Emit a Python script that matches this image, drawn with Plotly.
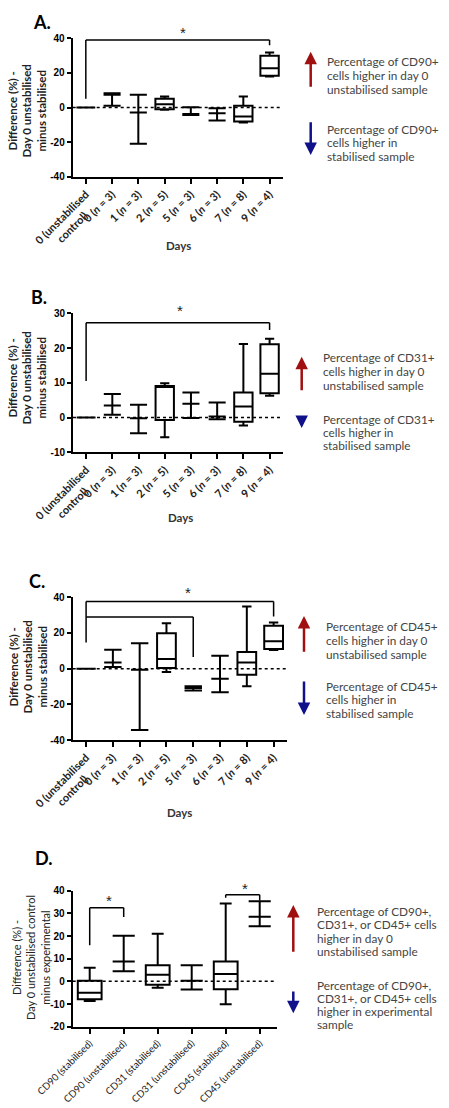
import plotly.graph_objects as go

W, H = 449, 1108
NB = "\u00a0"

# ---------------- data ----------------
DAY_CATS = ["ctrl", "d0", "d1", "d2", "d5", "d6", "d7", "d9"]
DAY_LABELS = ["0 (unstabilised<br>control)" + NB * 6, "0 (<i>n</i> = 3)", "1 (<i>n</i> = 3)",
              "2 (<i>n</i> = 5)", "5 (<i>n</i> = 3)", "6 (<i>n</i> = 3)",
              "7 (<i>n</i> = 8)", "9 (<i>n</i> = 4)"]
DAY_KIND = ["flat", "range", "range", "box", "range", "range", "box", "box"]

D_CATS = ["cd90s", "cd90u", "cd31s", "cd31u", "cd45s", "cd45u"]
D_LABELS = ["CD90 (stabilised)", "CD90 (unstabilised)", "CD31 (stabilised)",
            "CD31 (unstabilised)", "CD45 (stabilised)", "CD45 (unstabilised)"]
D_KIND = ["box", "range", "box", "range", "box", "range"]

# Panel A (CD90)
A_min = [0, 1.0, -21.0, -1.3, -4.4, -7.5, -8.7, 17.9]
A_q1 = [0, 7.4, -2.9, -1.0, -3.7, -3.3, -8.1, 18.3]
A_med = [0, 7.4, -2.9, 1.9, -3.7, -3.3, -5.2, 22.7]
A_q3 = [0, 7.4, -2.9, 5.0, -3.7, -3.3, 1.0, 29.9]
A_max = [0, 8.2, 7.3, 6.4, 0.2, -0.4, 6.4, 31.8]

# Panel B (CD31)
B_min = [0, 0.8, -4.5, -5.7, -0.1, -0.5, -2.3, 6.3]
B_q1 = [0, 3.5, -0.2, -0.7, 4.0, 0.3, -1.2, 7.0]
B_med = [0, 3.5, -0.2, 8.8, 4.0, 0.3, 3.2, 12.6]
B_q3 = [0, 3.5, -0.2, 9.1, 4.0, 0.3, 7.2, 21.1]
B_max = [0, 6.8, 3.7, 9.9, 7.2, 4.3, 21.2, 22.7]

# Panel C (CD45)
C_min = [0, 0.9, -34.4, -1.9, -12.3, -13.2, -9.9, 10.4]
C_q1 = [0, 3.5, -0.6, 0.4, -10.8, -5.6, -3.4, 11.0]
C_med = [0, 3.5, -0.6, 5.4, -10.8, -5.6, 3.5, 15.3]
C_q3 = [0, 3.5, -0.6, 19.9, -10.8, -5.6, 9.3, 24.0]
C_max = [0, 10.6, 14.3, 25.5, -9.9, 7.3, 34.8, 25.9]

# Panel D (combined)
D_min = [-8.7, 4.5, -2.8, -3.6, -10.1, 24.3]
D_q1 = [-7.9, 8.8, -1.5, 0.3, -3.5, 28.5]
D_med = [-5.0, 8.8, 2.9, 0.3, 3.2, 28.5]
D_q3 = [0.3, 8.8, 7.1, 0.3, 8.8, 28.5]
D_max = [6.0, 20.1, 21.0, 7.1, 34.3, 35.4]

# y ticks
YT_A = [-40, -20, 0, 20, 40]
YT_B = [-10, 0, 10, 20, 30]
YT_C = [-40, -20, 0, 20, 40]
YT_D = [-20, -10, 0, 10, 20, 30, 40]

# significance brackets: (x_left, y_left_bottom, x_right, y_right_bottom, y_top)
BR_A = [(0, 5, 7, 36, 39)]
BR_B = [(0, 10.5, 7, 25.2, 27.3)]
BR_C = [(0, 14.7, 7, 29.2, 37.6), (0, 28.9, 4, 6.5, 28.9)]
BR_D = [(0, 15.9, 1, 28.4, 32.5), (4, 36.9, 5, 35.7, 38.2)]
STAR_A = [(3.7, 43.5)]
STAR_B = [(3.6, 30.8)]
STAR_C = [(3.8, 42.5)]
STAR_D = [(0.56, 35.5), (4.58, 41.0)]

TITLE_ABC = "Difference (%) -<br>Day 0 unstabilised<br>minus stabilised"
TITLE_D = "Difference (%) -<br>Day 0 unstabilised control<br>minus experimental"

LEG_A = (["Percentage of CD90+", "cells higher in day 0", "unstabilised sample"],
         ["Percentage of CD90+", "cells higher in", "stabilised sample"])
LEG_B = (["Percentage of CD31+", "cells higher in day 0", "unstabilised sample"],
         ["Percentage of CD31+", "cells higher in", "stabilised sample"])
LEG_C = (["Percentage of CD45+", "cells higher in day 0", "unstabilised sample"],
         ["Percentage of CD45+", "cells higher in", "stabilised sample"])
LEG_D = (["Percentage of CD90+,", "CD31+, or CD45+ cells", "higher in day 0",
          "unstabilised sample"],
         ["Percentage of CD90+,", "CD31+, or CD45+ cells", "higher in experimental",
          "sample"])

# ---------------- layout helpers ----------------
def px(x):
    return x / W


def py(y):
    return 1 - y / H


FONT_TXT = "Lato"
FONT_NUM = "Liberation Sans"

fig = go.Figure()
annotations = []
shapes = []
layout = dict(width=W, height=H, margin=dict(l=0, r=0, t=0, b=0, autoexpand=False),
              paper_bgcolor="white", plot_bgcolor="white", showlegend=False,
              boxmode="overlay")

panels = [
    dict(cats=DAY_CATS, labels=DAY_LABELS, kind=DAY_KIND,
         mn=A_min, q1=A_q1, med=A_med, q3=A_q3, mx=A_max,
         xd=(72.7, 282.7), yd=(38.3, 176.7), yr=(-40, 40), yt=YT_A,
         br=BR_A, st=STAR_A, letter="A.", lp=(41.5, 22.5), title=TITLE_ABC,
         tp=(27.5, 111), days=(178, 245), leg=LEG_A, bold=True,
         arr=dict(x=310.7, r=(51.7, 88.3), b=(120.7, 155), tx=325, ry=61.7, by=129,
                  sp=13.7)),
    dict(cats=DAY_CATS, labels=DAY_LABELS, kind=DAY_KIND,
         mn=B_min, q1=B_q1, med=B_med, q3=B_q3, mx=B_max,
         xd=(73, 282.7), yd=(313.3, 452.3), yr=(-10, 30), yt=YT_B,
         br=BR_B, st=STAR_B, letter="B.", lp=(38.5, 297), title=TITLE_ABC,
         tp=(27.5, 378), days=(180, 517), leg=LEG_B, bold=True,
         arr=dict(x=301.7, r=(356.7, 391.7), b=(417, 428), tx=321, ry=358, by=419,
                  sp=13.5)),
    dict(cats=DAY_CATS, labels=DAY_LABELS, kind=DAY_KIND,
         mn=C_min, q1=C_q1, med=C_med, q3=C_q3, mx=C_max,
         xd=(72.7, 287), yd=(597.3, 740), yr=(-40, 40), yt=YT_C,
         br=BR_C, st=STAR_C, letter="C.", lp=(36.5, 581), title=TITLE_ABC,
         tp=(27.5, 667), days=(179, 812), leg=LEG_C, bold=True,
         arr=dict(x=304, r=(616, 653.3), b=(680, 715), tx=324.3, ry=626.7, by=686,
                  sp=13.8)),
    dict(cats=D_CATS, labels=D_LABELS, kind=D_KIND,
         mn=D_min, q1=D_q1, med=D_med, q3=D_q3, mx=D_max,
         xd=(72.7, 276.7), yd=(890.7, 1026.7), yr=(-20, 40), yt=YT_D,
         br=BR_D, st=STAR_D, letter="D.", lp=(44, 858), title=TITLE_D,
         tp=(31, 958), days=None, leg=LEG_D, bold=False,
         arr=dict(x=293.3, r=(905, 953.3), b=(990, 1013.3), tx=315, ry=911.7, by=985,
                  sp=13.2)),
]

for k, p in enumerate(panels, start=1):
    sfx = "" if k == 1 else str(k)
    xa, ya = "x" + sfx, "y" + sfx
    n = len(p["cats"])
    for i in range(n):
        kind = p["kind"][i]
        if kind == "box":
            width, ww = 0.7, 0.5
        elif kind == "range":
            width, ww = 0.65, 1.0
        else:
            width, ww = 0.72, 1.0
        fig.add_trace(go.Box(
            x=[p["cats"][i]], q1=[p["q1"][i]], median=[p["med"][i]], q3=[p["q3"][i]],
            lowerfence=[p["mn"][i]], upperfence=[p["mx"][i]],
            width=width, whiskerwidth=ww, boxpoints=False,
            line=dict(color="black", width=2), fillcolor="rgba(0,0,0,0)",
            xaxis=xa, yaxis=ya, hoverinfo="skip", showlegend=False))

    tick_font = dict(family=FONT_TXT, size=11 if p["bold"] else 9.8,
                     color="#222", weight="bold" if p["bold"] else "normal")
    layout["xaxis" + sfx] = dict(
        domain=[px(p["xd"][0]), px(p["xd"][1])], anchor=ya, automargin=False,
        type="category", categoryorder="array", categoryarray=p["cats"],
        range=[-0.5, n - 0.5], tickmode="array", tickvals=p["cats"],
        ticktext=p["labels"], tickangle=-45, tickfont=tick_font,
        showline=True, linecolor="black", linewidth=2,
        ticks="outside", ticklen=5, tickwidth=2, tickcolor="black",
        showgrid=False, zeroline=False, fixedrange=True)
    layout["yaxis" + sfx] = dict(
        domain=[py(p["yd"][1]), py(p["yd"][0])], anchor=xa, automargin=False,
        range=list(p["yr"]), tickmode="array", tickvals=p["yt"],
        ticktext=[str(v) for v in p["yt"]],
        tickfont=dict(family=FONT_NUM, size=10, color="black", weight="bold"),
        showline=True, linecolor="black", linewidth=2,
        ticks="outside", ticklen=4, tickwidth=2, tickcolor="black",
        showgrid=False, zeroline=False, fixedrange=True)

    # dotted zero line
    shapes.append(dict(type="line", xref=xa + " domain", yref=ya, x0=0, x1=1, y0=0, y1=0,
                       line=dict(color="black", width=1.5, dash="dot"), layer="below"))
    # brackets
    for (xl, ylb, xr, yrb, yt) in p["br"]:
        for (x0, y0, x1, y1) in [(xl, ylb, xl, yt), (xl, yt, xr, yt), (xr, yt, xr, yrb)]:
            shapes.append(dict(type="line", xref=xa, yref=ya, x0=x0, y0=y0, x1=x1, y1=y1,
                               line=dict(color="black", width=1.5)))
    y0r, y1r = p["yr"]
    for (sx, sy) in p["st"]:
        annotations.append(dict(xref=xa + " domain", yref=ya + " domain",
                                x=(sx + 0.5) / n, y=(sy - y0r) / (y1r - y0r),
                                text="*", showarrow=False,
                                xanchor="center", yanchor="middle",
                                font=dict(family=FONT_NUM, size=15, color="#222")))

    # panel letter
    annotations.append(dict(xref="paper", yref="paper", x=px(p["lp"][0]), y=py(p["lp"][1]),
                            text="<b>%s</b>" % p["letter"], showarrow=False,
                            xanchor="center", yanchor="middle",
                            font=dict(family=FONT_TXT, size=18, color="black")))
    # y title
    annotations.append(dict(xref="paper", yref="paper", x=px(p["tp"][0]), y=py(p["tp"][1]),
                            text=p["title"], showarrow=False, textangle=-90,
                            xanchor="center", yanchor="middle",
                            font=dict(family=FONT_TXT, size=11.5 if p["bold"] else 11,
                                      color="#222",
                                      weight="bold" if p["bold"] else "normal")))
    # x title
    if p["days"]:
        annotations.append(dict(xref="paper", yref="paper", x=px(p["days"][0]),
                                y=py(p["days"][1]), text="<b>Days</b>", showarrow=False,
                                xanchor="center", yanchor="middle",
                                font=dict(family=FONT_TXT, size=11.5, color="#333")))
    # legend arrows and text
    a = p["arr"]
    annotations.append(dict(xref="paper", yref="paper", x=px(a["x"]), y=py(a["r"][0]),
                            ax=0, ay=a["r"][1] - a["r"][0], text="", showarrow=True,
                            arrowhead=2, arrowsize=1, arrowwidth=2.5, arrowcolor="#a01010"))
    annotations.append(dict(xref="paper", yref="paper", x=px(a["x"]), y=py(a["b"][1]),
                            ax=0, ay=-(a["b"][1] - a["b"][0]), text="", showarrow=True,
                            arrowhead=2, arrowsize=1, arrowwidth=2.5, arrowcolor="#10108a"))
    for lines, yy in [(p["leg"][0], a["ry"]), (p["leg"][1], a["by"])]:
        for j, line in enumerate(lines):
            annotations.append(dict(xref="paper", yref="paper", x=px(a["tx"]),
                                    y=py(yy + j * a["sp"]),
                                    xanchor="left", yanchor="middle", align="left",
                                    text=line, showarrow=False,
                                    font=dict(family=FONT_TXT, size=11.8, color="#444")))

layout["shapes"] = shapes
layout["annotations"] = annotations
fig.update_layout(**layout)
fig.write_html("out.html")
